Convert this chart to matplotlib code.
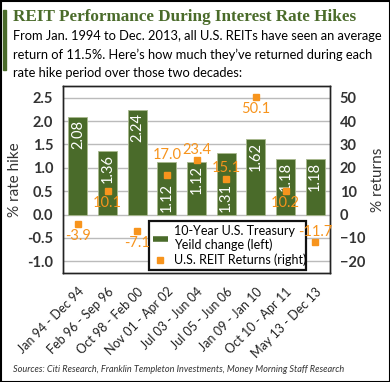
import matplotlib.pyplot as plt
import matplotlib.patches as mpatches
from matplotlib.lines import Line2D
import numpy as np

# Данные
periods = ['Jan 94 - Dec 94', 'Feb 96 - Sep 96', 'Oct 98 - Feb 00', 'Nov 01 - Apr 02',
           'Jul 03 - Jun 04', 'Jul 05 - Jun 06', 'Jan 09 - Jan 10', 'Oct 10 - Apr 11',
           'May 13 - Dec 13']
rate_hike = [2.08, 1.36, 2.24, 1.12, 1.12, 1.31, 1.62, 1.18, 1.18]
reit_returns = [-3.9, 10.1, -7.1, 17.0, 23.4, 15.1, 50.1, 10.2, -11.7]

# Оформление подписей (позиция в столбце и смещение подписей маркеров, px)
bar_label_pos = ['top', 'top', 'top', 'bottom', 'top', 'bottom', 'top', 'top', 'top']
ret_label_dy = [-12, -12, -12, 20, 10, 11, -12, -12, 10]

green = '#4a6b2a'
orange = '#f7941d'
text_c = '#333333'
font = 'Lato'

fig = plt.figure(figsize=(3.9, 3.82), dpi=100)
ax = fig.add_axes([63 / 390, 1 - 273 / 382, 267 / 390, 187 / 382])
ax2 = ax.twinx()

x = np.arange(len(periods))
ax.bar(x, rate_hike, width=0.64, color=green, edgecolor='#a9b98f', linewidth=0.6, zorder=2)
ax.set_xlim(-0.5, 8.5)
ax.set_ylim(-1.25, 2.75)
ax.set_yticks(np.arange(-1.0, 2.51, 0.5))
ax.set_yticklabels([f'{v:.1f}' for v in np.arange(-1.0, 2.51, 0.5)])
ax.yaxis.grid(True, color='#bbbbbb', linewidth=1.0, zorder=0)
ax.set_axisbelow(True)

for xi, v, pos in zip(x, rate_hike, bar_label_pos):
    if pos == 'top':
        ax.text(xi, v - 0.06, f'{v:.2f}', rotation=90, ha='center', va='top',
                color='white', fontsize=10.5, family=font, zorder=3)
    else:
        ax.text(xi, 0.06, f'{v:.2f}', rotation=90, ha='center', va='bottom',
                color='white', fontsize=10.5, family=font, zorder=3)

ax2.plot(x, reit_returns, 's', color=orange, markersize=4, zorder=4)
ax2.set_ylim(-25, 55)
ax2.set_yticks(range(-20, 51, 10))
for xi, v, dy in zip(x, reit_returns, ret_label_dy):
    ax2.annotate(f'{v:.1f}', (xi, v), xytext=(0, dy), textcoords='offset pixels',
                 ha='center', va='center', color=orange, fontsize=10.5, family=font,
                 zorder=12)

for a in (ax, ax2):
    for s in a.spines.values():
        s.set_color('#222222')
        s.set_linewidth(1.0)
    a.tick_params(length=0, labelsize=10.5, labelcolor=text_c)
    for lbl in a.get_yticklabels():
        lbl.set_family(font)
        lbl.set_fontweight('bold')

ax.tick_params(axis='y', pad=7)
ax2.tick_params(axis='y', pad=7)

ax.set_xticks(x)
ax.set_xticklabels(periods, rotation=45, ha='right', rotation_mode='anchor',
                   fontsize=9.0, family=font, color='#222222')
ax.tick_params(axis='x', pad=9)

ax.set_ylabel('% rate hike', fontsize=11, family=font, color=text_c, labelpad=4)
ax2.set_ylabel('% returns', fontsize=11, family=font, color=text_c, labelpad=4)

handles = [Line2D([0], [0], color=green, linewidth=4, solid_capstyle='butt'),
           Line2D([0], [0], marker='s', color=orange, linestyle='None', markersize=4)]
leg = ax2.legend(handles, ['10-Year U.S. Treasury\nYeild change (left)', 'U.S. REIT Returns (right)'],
                 loc='lower left', bbox_to_anchor=(149 / 390, 1 - 270 / 382, 157 / 390, 47 / 382),
                 bbox_transform=fig.transFigure, mode='expand', fancybox=False,
                 edgecolor='#111111', framealpha=1, prop={'family': font, 'size': 9.0},
                 handlelength=1.2, handletextpad=0.5, borderpad=0.3, labelspacing=0.2,
                 borderaxespad=0)
leg.get_frame().set_linewidth(1.6)
leg.set_zorder(10)

# Заголовок и подзаголовок
fig.text(13 / 390, 1 - 17 / 382, 'REIT Performance During Interest Rate Hikes',
         fontsize=12.3, fontweight='bold', family='Liberation Serif', color=green, va='center')
for i, line in enumerate(['From Jan. 1994 to Dec. 2013, all U.S. REITs have seen an average',
                          "return of 11.5%. Here\u2019s how much they\u2019ve returned during each",
                          'rate hike period over those two decades:']):
    fig.text(13 / 390, 1 - (36 + 18.5 * i) / 382, line,
             fontsize=9.25, family=font, color='black', va='center')
fig.text(13 / 390, 1 - 370 / 382,
         'Sources: Citi Research, Franklin Templeton Investments, Money Morning Staff Research',
         fontsize=6.6, style='italic', family=font, color=text_c, va='center')

fig.patches.append(mpatches.Rectangle((3 / 390, 1 - 70 / 382), 2.5 / 390, 60 / 382,
                                      transform=fig.transFigure, color=green, figure=fig))
fig.patches.append(mpatches.Rectangle((0.5 / 390, 0.5 / 382), 389 / 390, 381 / 382, fill=False,
                                      edgecolor='black', linewidth=1.5,
                                      transform=fig.transFigure, figure=fig))

plt.savefig('out.png', dpi=100)
